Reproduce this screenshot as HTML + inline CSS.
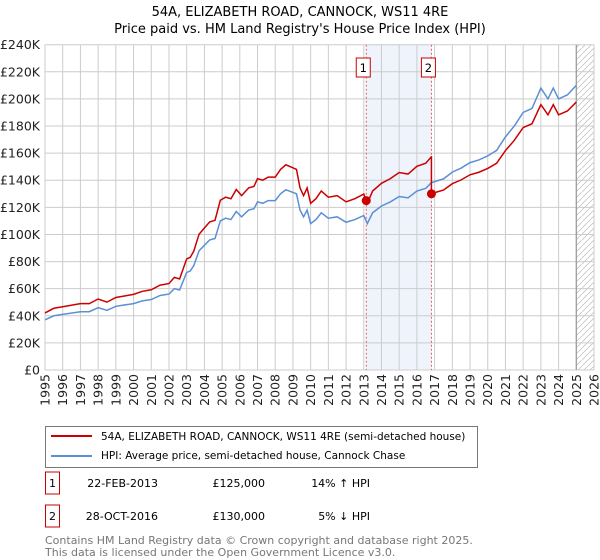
<!DOCTYPE html>
<html><head><meta charset="utf-8"><style>
body{margin:0;background:#fff;font-family:"Liberation Sans","DejaVu Sans",sans-serif;}
#wrap{position:relative;width:600px;height:560px;overflow:hidden;}
svg text{font-family:"DejaVu Sans","Liberation Sans",sans-serif;}
</style></head><body><div id="wrap">
<svg id="chart" width="600" height="560"></svg>
</div>
<script>
const years=[1995,1995.5,1996,1997,1997.5,1998,1998.5,1999,2000,2000.5,2001,2001.5,2002,2002.3,2002.6,2003,2003.2,2003.4,2003.7,2004,2004.3,2004.6,2004.9,2005.2,2005.5,2005.8,2006.1,2006.5,2006.8,2007,2007.3,2007.6,2008,2008.3,2008.6,2009,2009.2,2009.4,2009.6,2009.8,2010,2010.3,2010.6,2011,2011.5,2012,2012.5,2013,2013.2,2013.5,2014,2014.5,2015,2015.5,2016,2016.5,2016.8,2017,2017.5,2018,2018.5,2019,2019.5,2020,2020.5,2021,2021.5,2022,2022.5,2023,2023.4,2023.7,2024,2024.5,2025];
const hpi=[37,40,41,43,43,46,44,47,49,51,52,55,56,60,59,72,73,77,88,92,96,97,110,112,111,117,113,118,119,124,123,125,125,130,133,131,130,118,113,118,108,111,116,112,113,109,111,114,108,116,121,124,128,127,132,134,138,139,141,146,149,153,155,158,162,172,180,190,193,208,200,208,200,203,210];
const saleYears=[2013.14,2016.82];
const salePrices=[125,130];
const yTicks=[0,20,40,60,80,100,120,140,160,180,200,220,240];
const xTicks=[1995,1996,1997,1998,1999,2000,2001,2002,2003,2004,2005,2006,2007,2008,2009,2010,2011,2012,2013,2014,2015,2016,2017,2018,2019,2020,2021,2022,2023,2024,2025,2026];
const L=45,R=594,T=44.7,B=370;
const x=v=>L+(v-1995)/31*(R-L);
const y=v=>B-v/240*(B-T);
const NS="http://www.w3.org/2000/svg";
const svg=document.getElementById('chart');
function mk(tag,attrs,parent){const e=document.createElementNS(NS,tag);for(const k in attrs)e.setAttribute(k,attrs[k]);(parent||svg).appendChild(e);return e;}
function txt(s,attrs){const e=mk('text',attrs);e.textContent=s;return e;}
let t=txt('54A, ELIZABETH ROAD, CANNOCK, WS11 4RE',{x:300,y:16,'text-anchor':'middle','font-size':13});


t=txt("Price paid vs. HM Land Registry's House Price Index (HPI)",{x:300,y:33,'text-anchor':'middle','font-size':13});


let sh=mk('rect',{x:x(saleYears[0]),y:T,width:x(saleYears[1])-x(saleYears[0]),height:B-T,fill:'#eef3fc'});


const defs=mk('defs',{});
const pat=mk('pattern',{id:'hatch',patternUnits:'userSpaceOnUse',width:6,height:6},defs);
mk('path',{d:'M0,6 L6,0',stroke:'#bbb','stroke-width':0.7},pat);
let hr=mk('rect',{x:x(2025),y:T,width:R-x(2025),height:B-T,fill:'url(#hatch)'});


yTicks.forEach(v=>{
 const g=mk('line',{x1:L,x2:R,y1:y(v),y2:y(v),stroke:'#ccc','stroke-width':1});
 
 
 const lb=txt(v===0?'£0':'£'+v+'K',{x:40,y:y(v)+4.5,'text-anchor':'end','font-size':12.5,fill:'#222'});
 
 
});
xTicks.forEach(v=>{
 const g=mk('line',{x1:x(v),x2:x(v),y1:T,y2:B,stroke:'#ccc','stroke-width':1});
 
 
 const lb=txt(String(v),{x:0,y:0,'text-anchor':'end','font-size':12.5,fill:'#222',transform:`translate(${x(v)+4.5},374) rotate(-90)`});
 
 
});
let vl=mk('line',{x1:x(2025),x2:x(2025),y1:T,y2:B,stroke:'#999','stroke-width':1.2});


saleYears.forEach((s,i)=>{
 const l=mk('line',{x1:x(s),x2:x(s),y1:T,y2:B,stroke:'#e06060','stroke-width':1,'stroke-dasharray':'2,2'});
 
 
 const r=mk('rect',{x:x(s)-10,y:58,width:14,height:19,fill:'#fff',stroke:'#c00','stroke-width':1});
 
 
 const tx=txt(String(i+1),{x:x(s)-3,y:72,'text-anchor':'middle','font-size':11.5});
 
 
});
function hpiAt(yr){for(let i=1;i<years.length;i++){if(years[i]>=yr){const f=(yr-years[i-1])/(years[i]-years[i-1]);return hpi[i-1]+f*(hpi[i]-hpi[i-1]);}}return hpi[hpi.length-1];}
const r1=salePrices[0]/hpiAt(saleYears[0]), r2=salePrices[1]/hpiAt(saleYears[1]);
let redPts=[];
years.forEach((yr,i)=>{ if(yr<saleYears[1]) redPts.push([yr,hpi[i]*r1]); });
redPts.push([saleYears[1],hpiAt(saleYears[1])*r1]);
redPts.push([saleYears[1],salePrices[1]]);
years.forEach((yr,i)=>{ if(yr>saleYears[1]) redPts.push([yr,hpi[i]*r2]); });
let bp=mk('polyline',{points:years.map((yr,i)=>x(yr)+','+y(hpi[i])).join(' '),fill:'none',stroke:'#5b8fd6','stroke-width':1.5});


let rp=mk('polyline',{points:redPts.map(p=>x(p[0])+','+y(p[1])).join(' '),fill:'none',stroke:'#cc0000','stroke-width':1.5});


saleYears.forEach((s,i)=>{
 const c=mk('circle',{cx:x(s),cy:y(salePrices[i]),r:4.5,fill:'#cc0000'});
 
 
});
let lg=mk('rect',{x:45.5,y:426.5,width:432,height:41,fill:'#fff',stroke:'#777','stroke-width':1});


mk('line',{x1:51,x2:92,y1:436,y2:436,stroke:'#cc0000','stroke-width':2});
mk('line',{x1:51,x2:92,y1:456,y2:456,stroke:'#5b8fd6','stroke-width':2});
t=txt('54A, ELIZABETH ROAD, CANNOCK, WS11 4RE (semi-detached house)',{x:101,y:440,'font-size':10.5});


t=txt('HPI: Average price, semi-detached house, Cannock Chase',{x:101,y:459,'font-size':10.5});


const rows=[['1','22-FEB-2013','£125,000','14% \u2191 HPI'],['2','28-OCT-2016','£130,000','5% \u2193 HPI']];
rows.forEach((r,i)=>{
 const cy=483+i*33;
 const b=mk('rect',{x:45.5,y:cy-11,width:14,height:22,fill:'#fff',stroke:'#c00','stroke-width':1});
 
 
 let a=txt(r[0],{x:52.5,y:cy+4,'text-anchor':'middle','font-size':11});
 
 
 a=txt(r[1],{x:158,y:cy+4,'text-anchor':'end','font-size':11});
 
 
 a=txt(r[2],{x:265,y:cy+4,'text-anchor':'end','font-size':11});
 
 
 a=txt(r[3],{x:370,y:cy+4,'text-anchor':'end','font-size':11});
 
 
});
t=txt('Contains HM Land Registry data \u00a9 Crown copyright and database right 2025.',{x:45,y:544,'font-size':11,fill:'#777'});


t=txt('This data is licensed under the Open Government Licence v3.0.',{x:45,y:556,'font-size':11,fill:'#777'});


</script></body></html>
